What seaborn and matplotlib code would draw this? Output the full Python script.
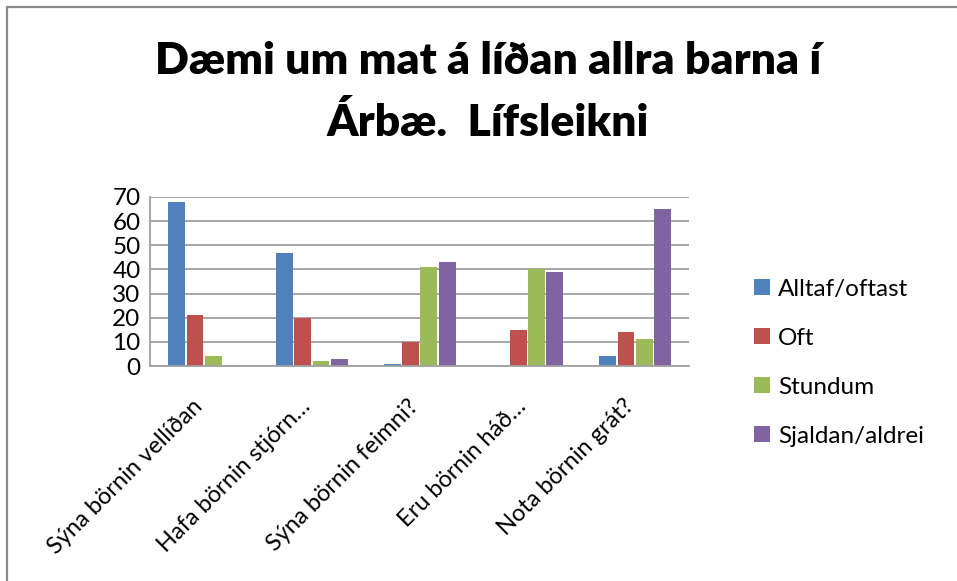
import matplotlib
matplotlib.use("Agg")
import matplotlib.pyplot as plt
import matplotlib.transforms as mtransforms
from matplotlib.patches import Rectangle
import seaborn as sns
import pandas as pd

categories = ["Sýna börnin vellíðan", "Hafa börnin stjórn…", "Sýna börnin feimni?",
              "Eru börnin háð…", "Nota börnin grát?"]
series = ["Alltaf/oftast", "Oft", "Stundum", "Sjaldan/aldrei"]
alltaf = [68, 47, 1, 0, 4]
oft = [21, 20, 10, 15, 14]
stundum = [4, 2, 41, 40, 11]
sjaldan = [0.3, 3, 43, 39, 65]
yticks = [0, 10, 20, 30, 40, 50, 60, 70]
colors = ["#4F81BD", "#C0504D", "#9BBB59", "#8064A2"]

rows = []
for name, vals in zip(series, [alltaf, oft, stundum, sjaldan]):
    for c, v in zip(categories, vals):
        rows.append({"cat": c, "series": name, "value": v})
df = pd.DataFrame(rows)

sns.set_theme(style="white")
plt.rcParams["font.family"] = ["Lato", "DejaVu Sans"]
plt.rcParams["text.color"] = "black"
plt.rcParams["xtick.color"] = "black"
plt.rcParams["ytick.color"] = "black"

fig = plt.figure(figsize=(9.57, 5.81), dpi=100)
W, H = 957, 581
fig.patches.append(Rectangle((7 / W, -0.5), 2.0, 1.5 - 7 / H, transform=fig.transFigure,
                             fill=False, edgecolor="#8C8C8C", linewidth=1.6))
ax = fig.add_axes([0.157, 0.37, 0.563, 0.291])

sns.barplot(data=df, x="cat", y="value", hue="series", palette=colors,
            width=0.68, gap=0.08, ax=ax, legend=True, saturation=1,
            edgecolor="none")

ax.set_ylim(0, 70)
ax.set_yticks(yticks)
ax.set_yticklabels([str(t) for t in yticks], fontsize=17.5)
ax.yaxis.grid(True, color="#A0A0A0", linewidth=1.3)
ax.set_axisbelow(True)
for s in ["top", "right"]:
    ax.spines[s].set_visible(False)
ax.spines["left"].set_color("#A0A0A0")
ax.spines["bottom"].set_color("#A0A0A0")
ax.spines["left"].set_linewidth(1.3)
ax.spines["bottom"].set_linewidth(1.3)
ax.tick_params(axis="both", length=0, pad=7)
ax.set_xlabel("")
ax.set_ylabel("")
ax.set_xticks(range(len(categories)))
ax.set_xticklabels(categories, rotation=45, ha="right", rotation_mode="anchor",
                   fontsize=17)
offset = mtransforms.ScaledTranslation(-12 / 100, -20 / 100, fig.dpi_scale_trans)
for lbl in ax.get_xticklabels():
    lbl.set_transform(lbl.get_transform() + offset)

handles, labels = ax.get_legend_handles_labels()
ax.legend(handles, labels, loc="center left", bbox_to_anchor=(1.08, 0.02),
          frameon=False, fontsize=17.5, labelspacing=1.15, handlelength=0.65,
          handleheight=0.65, handletextpad=0.35)

fig.text(0.51, 0.895, "Dæmi um mat á líðan allra barna í", ha="center", va="center",
         fontsize=32, fontweight="heavy")
fig.text(0.51, 0.79, "Árbæ.  Lífsleikni", ha="center", va="center",
         fontsize=32, fontweight="heavy")

fig.savefig("out.png", dpi=100)
